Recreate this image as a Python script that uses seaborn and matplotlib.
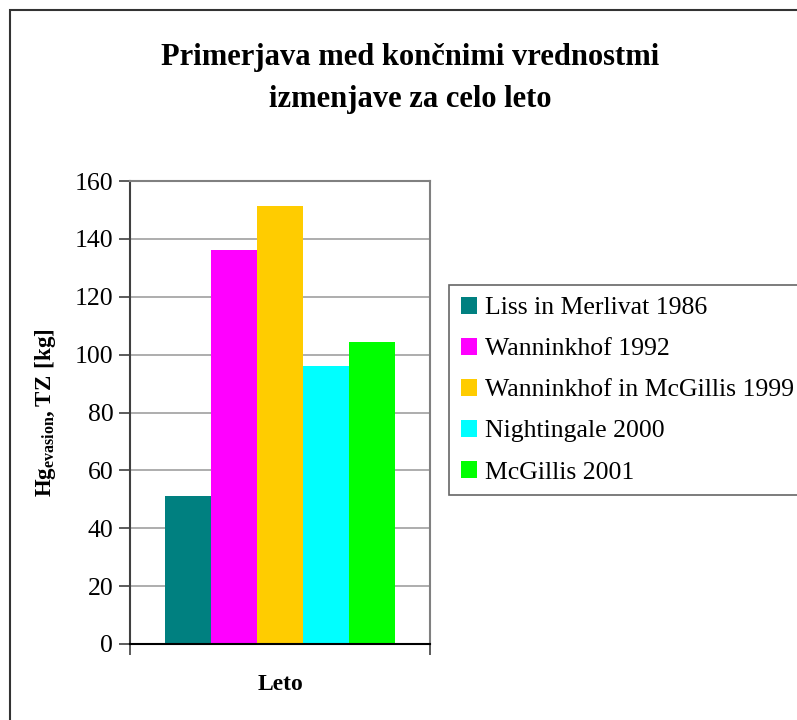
import matplotlib
matplotlib.use("Agg")
import matplotlib.pyplot as plt
import seaborn as sns
import pandas as pd
from matplotlib.patches import Rectangle

categories = ["Leto"]
series = ["Liss in Merlivat 1986", "Wanninkhof 1992", "Wanninkhof in McGillis 1999",
          "Nightingale 2000", "McGillis 2001"]
values = [51, 136, 151.5, 96, 104.5]
colors = ["#008080", "#FF00FF", "#FFCC00", "#00FFFF", "#00FF00"]
yticks = [0, 20, 40, 60, 80, 100, 120, 140, 160]

sns.set_theme(style="white")
plt.rcParams["font.family"] = ["Liberation Serif", "DejaVu Serif"]
plt.rcParams["mathtext.fontset"] = "custom"
plt.rcParams["mathtext.rm"] = "Liberation Serif"
plt.rcParams["mathtext.bf"] = "Liberation Serif:bold"
plt.rcParams["text.color"] = "black"
plt.rcParams["axes.labelcolor"] = "black"
plt.rcParams["xtick.color"] = "black"
plt.rcParams["ytick.color"] = "black"

df = pd.DataFrame({"cat": categories * len(series), "series": series, "value": values})

W, H = 797, 720
fig = plt.figure(figsize=(W / 100, H / 100), dpi=100)
ax = fig.add_axes([130 / W, 1 - 644 / H, 300 / W, (644 - 181) / H])

sns.barplot(data=df, x="cat", y="value", hue="series", hue_order=series,
            palette=colors, width=0.77, saturation=1, ax=ax, legend=False,
            edgecolor="none", linewidth=0)

ax.set_xlim(-0.5, 0.5)
ax.set_ylim(0, 160)
ax.set_yticks(yticks)
ax.set_yticklabels([str(t) for t in yticks], fontsize=18.5)
ax.set_xticks([-0.5, 0.5])
ax.set_xticklabels(["", ""])
ax.tick_params(axis="x", length=8, width=1.2, color="#404040", direction="out", bottom=True)
ax.tick_params(axis="y", length=8, width=1.2, color="#404040", direction="out", left=True, pad=4)
ax.yaxis.grid(True, color="#A0A0A0", linewidth=1.2)
ax.set_axisbelow(True)
for s in ["top", "right"]:
    ax.spines[s].set_color("#808080")
    ax.spines[s].set_linewidth(1.5)
ax.spines["left"].set_color("#404040")
ax.spines["left"].set_linewidth(1.5)
ax.spines["bottom"].set_color("#000000")
ax.spines["bottom"].set_linewidth(1.5)

ax.set_xlabel("Leto", fontsize=17, fontweight="bold", labelpad=10)
ax.set_ylabel(r"$\mathbf{Hg_{evasion},TZ\ [kg]}$", fontsize=16.5, labelpad=12)

fig.text(410 / W, 1 - 57 / H, "Primerjava med končnimi vrednostmi", ha="center", va="center",
         fontsize=22, fontweight="bold")
fig.text(410 / W, 1 - 100 / H, "izmenjave za celo leto", ha="center", va="center",
         fontsize=22, fontweight="bold")

handles = [Rectangle((0, 0), 1, 1, facecolor=c, edgecolor="none") for c in colors]
leg = fig.legend(handles, series, loc="upper left", bbox_to_anchor=(449 / W, 1 - 285 / H),
                 frameon=True, fancybox=False, fontsize=18.5, handlelength=0.65, handleheight=0.65,
                 handletextpad=0.3, labelspacing=0.72, borderpad=0.45, borderaxespad=0)
leg.get_frame().set_edgecolor("#404040")
leg.get_frame().set_linewidth(1.2)

fig.patches.append(Rectangle((10 / W, -0.1), 1.2, 1 - 10 / H + 0.1, transform=fig.transFigure,
                             fill=False, edgecolor="#333333", linewidth=1.5, zorder=-1))

fig.savefig("out.png", dpi=100)
